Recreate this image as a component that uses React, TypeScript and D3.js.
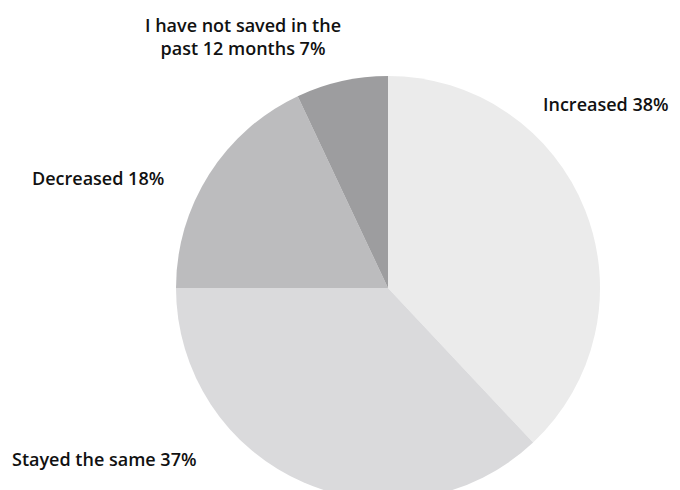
import React from "react";
import * as d3 from "d3";

const categories = ["Increased", "Stayed the same", "Decreased", "I have not saved in the past 12 months"];
const values = [38, 37, 18, 7];
const colors = ["#ebebeb", "#dadadc", "#bcbcbe", "#9d9d9f"];
const labelLines = [["Increased 38%"], ["Stayed the same 37%"], ["Decreased 18%"], ["I have not saved in the", "past 12 months 7%"]];

const W = 680, H = 490;
const cx = 388, cy = 288, R = 212;

const labelPos: { x: number; y: number; anchor: string }[] = [
  { x: 543, y: 111, anchor: "start" },
  { x: 12, y: 466, anchor: "start" },
  { x: 32, y: 185, anchor: "start" },
  { x: 243, y: 32, anchor: "middle" },
];

export default function App() {
  const pie = d3.pie<number>().sort(null).value((d) => d);
  const arcs = pie(values);
  const arc = d3.arc<d3.PieArcDatum<number>>().innerRadius(0).outerRadius(R);
  return (
    <svg width={W} height={H} style={{ position: "absolute", left: 0, top: 0, background: "#fff" }}>
      <g transform={`translate(${cx},${cy})`}>
        {arcs.map((a, i) => (
          <path key={categories[i]} d={arc(a) || ""} fill={colors[i]} />
        ))}
      </g>
      {labelLines.map((lines, i) => (
        <text
          key={i}
          x={labelPos[i].x}
          y={labelPos[i].y}
          textAnchor={labelPos[i].anchor as any}
          fontFamily="'Open Sans', sans-serif"
          fontWeight={600}
          fontSize={18}
          fill="#111"
        >
          {lines.map((l, j) => (
            <tspan key={j} x={labelPos[i].x} dy={j === 0 ? 0 : 23}>
              {l}
            </tspan>
          ))}
        </text>
      ))}
    </svg>
  );
}
